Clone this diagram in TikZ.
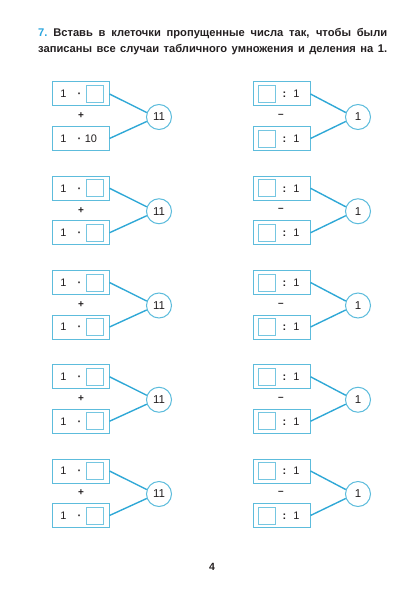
\documentclass[tikz,border=0pt]{standalone}
\usepackage{fontspec}
\setmainfont{Liberation Sans}
\usetikzlibrary{positioning,calc}
\definecolor{lineblue}{HTML}{2FA8D6}
\definecolor{boxblue}{HTML}{5DBCDC}
\definecolor{numblue}{HTML}{2AA5DD}
\definecolor{ink}{HTML}{231F20}

\begin{document}
\begin{tikzpicture}[
  x=1bp, y=-1bp,
  font=\fontsize{11}{13}\selectfont,
  cell/.style={draw=boxblue, line width=1bp, minimum width=57bp, minimum height=24bp, inner sep=0pt},
  slot/.style={draw=boxblue!85, line width=0.8bp, minimum size=17bp, inner sep=0pt},
  res/.style={draw=boxblue, line width=1bp, circle, minimum size=25bp, inner sep=0pt, text=ink,
    font=\fontsize{11.5}{13}\selectfont},
  link/.style={draw=lineblue, line width=1.4bp},
  txt/.style={inner sep=0pt, text=ink},
  sym/.style={inner sep=0pt, text=ink, anchor=base, yshift=-3.9bp},
]
\useasboundingbox (0,0) rectangle (416,601);

% Task text
\node[txt, anchor=north west, text width=349bp, align=justify,
      font=\fontsize{11.2}{16}\selectfont\bfseries] (task) at (38,28) {%
  \parfillskip=0pt
  \textcolor{numblue}{7.}~Вставь в клеточки пропущенные числа так, чтобы были\linebreak
  записаны все случаи табличного умножения и деления на~1.\par};

\foreach \r in {0,...,4}{
  \pgfmathsetmacro\t{82+94.25*\r}

  % multiplication: 1 * x + 1 * y = 11
  \node[cell] (mA\r) at (80.5,\t+12) {};
  \node[cell] (mB\r) at (80.5,\t+56.5) {};
  \node[sym] at ($(mA\r.west)+(12,0)$) {1};
  \node[sym] at ($(mA\r.west)+(28,0)$) {\textbf{·}};
  \node[slot] at ($(mA\r.west)+(43.5,0)$) {};
  \node[sym] at ($(mB\r.west)+(12,0)$) {1};
  \node[sym] at ($(mB\r.west)+(28,0)$) {\textbf{·}};
  \ifnum\r=0
    \node[sym] at ($(mB\r.west)+(39.5,0)$) {10};
  \else
    \node[slot] at ($(mB\r.west)+(43.5,0)$) {};
  \fi
  \node[txt, font=\bfseries] at (81,\t+34) {+};
  \node[res] (sum\r) at (159,\t+35) {11};
  \draw[link] (mA\r.east) -- (sum\r.160);
  \draw[link] (mB\r.east) -- (sum\r.200);

  % division: x : 1 - y : 1 = 1
  \node[cell] (dA\r) at (281.5,\t+12) {};
  \node[cell] (dB\r) at (281.5,\t+56.5) {};
  \node[slot] at ($(dA\r.west)+(14.5,0)$) {};
  \node[sym] at ($(dA\r.west)+(32,0)$) {\textbf{:}};
  \node[sym] at ($(dA\r.west)+(44,0)$) {1};
  \node[slot] at ($(dB\r.west)+(14.5,0)$) {};
  \node[sym] at ($(dB\r.west)+(32,0)$) {\textbf{:}};
  \node[sym] at ($(dB\r.west)+(44,0)$) {1};
  \node[txt, font=\bfseries] at (281,\t+34) {–};
  \node[res] (quo\r) at (358,\t+35) {1};
  \draw[link] (dA\r.east) -- (quo\r.160);
  \draw[link] (dB\r.east) -- (quo\r.200);
}

% page number
\node[txt, font=\fontsize{10.5}{12}\selectfont\bfseries] (page) at (212,567) {4};

\end{tikzpicture}
\end{document}
